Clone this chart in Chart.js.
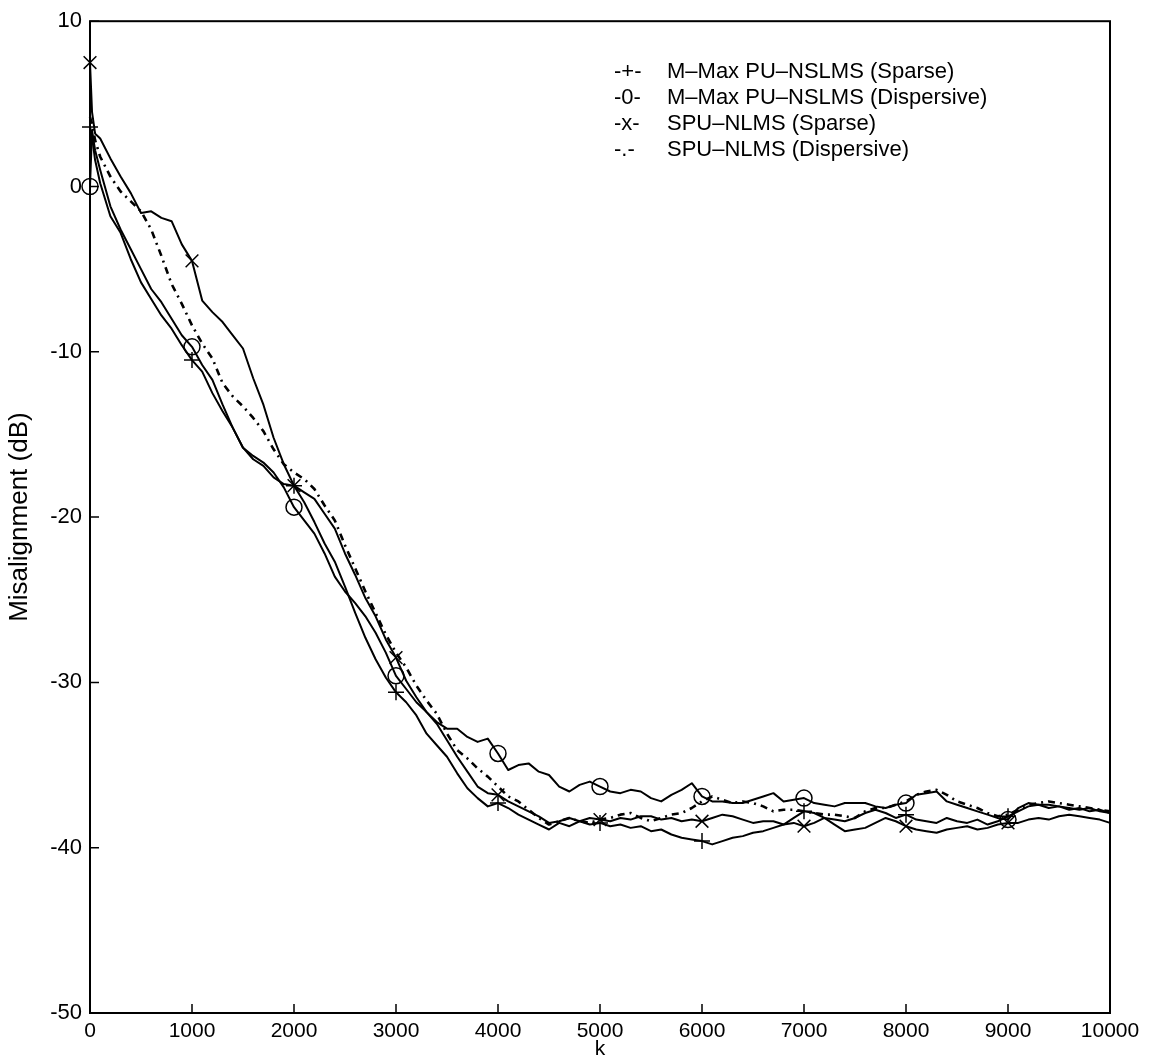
<!DOCTYPE html>
<html>
<head>
<meta charset="utf-8">
<script src="https://cdn.jsdelivr.net/npm/chart.js@4/dist/chart.umd.min.js"></script>
<style>
  html, body { margin: 0; padding: 0; background: #fff; }
  #caixa { width: 1154px; height: 1060px; }
</style>
</head>
<body>
<div id="caixa"><canvas id="grafico" width="1154" height="1060"></canvas></div>
<script>
// iteracoes k
const passos = [0, 20, 50,
  100, 200, 300, 400, 500, 600, 700, 800, 900, 1000,
  1100, 1200, 1300, 1400, 1500, 1600, 1700, 1800, 1900, 2000,
  2100, 2200, 2300, 2400, 2500, 2600, 2700, 2800, 2900, 3000,
  3100, 3200, 3300, 3400, 3500, 3600, 3700, 3800, 3900, 4000,
  4100, 4200, 4300, 4400, 4500, 4600, 4700, 4800, 4900, 5000,
  5100, 5200, 5300, 5400, 5500, 5600, 5700, 5800, 5900, 6000,
  6100, 6200, 6300, 6400, 6500, 6600, 6700, 6800, 6900, 7000,
  7100, 7200, 7300, 7400, 7500, 7600, 7700, 7800, 7900, 8000,
  8100, 8200, 8300, 8400, 8500, 8600, 8700, 8800, 8900, 9000,
  9100, 9200, 9300, 9400, 9500, 9600, 9700, 9800, 9900, 10000];

// M-Max PU-NSLMS (Sparse)  -+-
const mmaxEsparso = [3.6, 3.0, 1.6,
  0.2, -1.8, -2.8, -4.4, -5.8, -6.8, -7.8, -8.6, -9.6, -10.5,
  -11.2, -12.5, -13.6, -14.6, -15.8, -16.5, -16.9, -17.6, -18.0, -18.1,
  -19.1, -20.3, -21.6, -22.7, -24.2, -25.8, -27.3, -28.6, -29.7, -30.6,
  -31.2, -32.0, -33.1, -33.8, -34.5, -35.5, -36.4, -37.0, -37.5, -37.3,
  -37.6, -38.0, -38.3, -38.6, -38.9, -38.5, -38.7, -38.4, -38.6, -38.5,
  -38.7, -38.6, -38.8, -38.7, -39.0, -38.9, -39.2, -39.4, -39.5, -39.6,
  -39.8, -39.6, -39.4, -39.3, -39.1, -39.0, -38.8, -38.6, -38.2, -37.8,
  -37.9, -38.2, -38.3, -38.4, -38.2, -37.9, -37.7, -37.9, -38.2, -38.0,
  -38.3, -38.4, -38.5, -38.2, -38.4, -38.5, -38.3, -38.6, -38.4, -38.1,
  -37.8, -37.5, -37.4, -37.6, -37.5, -37.7, -37.6, -37.8, -37.7, -37.9];

// M-Max PU-NSLMS (Dispersive)  -o-
const mmaxDispersivo = [0, 3.4, 2.2,
  1.0, -1.2, -2.6, -3.8, -5.0, -6.2, -7.0, -8.0, -9.0, -9.7,
  -10.8, -11.7, -13.2, -14.6, -15.8, -16.3, -16.7, -17.3, -18.2, -19.4,
  -20.2, -21.0, -22.2, -23.6, -24.5, -25.2, -26.0, -27.0, -28.2, -29.6,
  -30.4, -31.2, -31.8, -32.4, -32.8, -32.8, -33.3, -33.6, -33.4, -34.3,
  -35.3, -35.0, -34.9, -35.4, -35.6, -36.3, -36.6, -36.2, -36.0, -36.3,
  -36.6, -36.7, -36.5, -36.6, -37.0, -37.2, -36.8, -36.5, -36.1, -36.9,
  -37.2, -37.2, -37.3, -37.3, -37.1, -36.9, -36.7, -37.2, -37.1, -37.0,
  -37.3, -37.4, -37.5, -37.3, -37.3, -37.3, -37.5, -37.6, -37.4, -37.3,
  -36.8, -36.7, -36.6, -37.2, -37.4, -37.6, -37.8, -38.0, -38.2, -38.3,
  -37.6, -37.3, -37.4, -37.4, -37.5, -37.6, -37.7, -37.6, -37.8, -37.9];

// SPU-NLMS (Sparse)  -x-
const spuEsparso = [7.5, 4.5, 3.2,
  2.9, 1.7, 0.6, -0.4, -1.6, -1.5, -1.9, -2.1, -3.5, -4.5,
  -6.9, -7.6, -8.2, -9.0, -9.8, -11.6, -13.2, -15.2, -16.8, -18.1,
  -18.5, -18.9, -19.8, -20.7, -22.2, -23.5, -24.9, -26.0, -27.4, -28.5,
  -29.9, -30.9, -31.8, -32.5, -33.5, -34.5, -35.4, -36.3, -36.7, -36.8,
  -37.2, -37.5, -37.8, -38.1, -38.5, -38.4, -38.2, -38.4, -38.2, -38.3,
  -38.4, -38.2, -38.3, -38.1, -38.1, -38.3, -38.2, -38.4, -38.3, -38.4,
  -38.2, -38.0, -38.1, -38.3, -38.5, -38.4, -38.4, -38.6, -38.5, -38.7,
  -38.5, -38.2, -38.6, -39.0, -38.9, -38.8, -38.5, -38.2, -38.4, -38.7,
  -38.9, -39.0, -39.1, -38.9, -38.8, -38.7, -38.9, -38.8, -38.6, -38.5,
  -38.5, -38.3, -38.2, -38.3, -38.1, -38.0, -38.1, -38.2, -38.3, -38.5];

// SPU-NLMS (Dispersive)  -.-
const spuDispersivo = [4.2, 3.8, 2.8,
  1.8, 0.6, -0.3, -0.9, -1.5, -2.6, -4.2, -5.9, -7.1, -8.4,
  -9.5, -10.4, -11.9, -12.7, -13.3, -14.0, -14.8, -15.9, -16.8, -17.3,
  -17.7, -18.3, -19.3, -20.2, -21.7, -23.1, -24.5, -25.8, -27.1, -28.2,
  -29.1, -30.2, -31.1, -31.9, -33.1, -34.1, -34.6, -35.2, -35.7, -36.3,
  -36.9, -37.2, -37.7, -38.2, -38.6, -38.4, -38.2, -38.4, -38.5, -38.3,
  -38.2, -38.0, -37.9, -38.2, -38.4, -38.2, -38.0, -37.9, -37.6, -37.2,
  -36.9, -37.1, -37.3, -37.2, -37.3, -37.5, -37.8, -37.7, -37.7, -37.8,
  -37.9, -38.0, -38.0, -38.1, -38.2, -37.8, -37.6, -37.6, -37.4, -37.2,
  -36.8, -36.6, -36.5, -36.8, -37.2, -37.4, -37.6, -37.9, -38.1, -38.0,
  -37.7, -37.4, -37.3, -37.2, -37.3, -37.4, -37.5, -37.6, -37.7, -37.8];

// marcadores a cada 1000 iteracoes
const posMarcadores = [0, 1000, 2000, 3000, 4000, 5000, 6000, 7000, 8000, 9000];

const ticksX = [0, 1000, 2000, 3000, 4000, 5000, 6000, 7000, 8000, 9000, 10000];
const ticksY = [10, 0, -10, -20, -30, -40, -50];

const simbolosLegenda = ["-+-", "-0-", "-x-", "-.-"];
const textosLegenda = [
  "M\u2013Max PU\u2013NSLMS (Sparse)",
  "M\u2013Max PU\u2013NSLMS (Dispersive)",
  "SPU\u2013NLMS (Sparse)",
  "SPU\u2013NLMS (Dispersive)",
];

const fonte = "'Liberation Sans', Arial, Helvetica, sans-serif";

function pontos(valores) {
  return passos.map((k, i) => ({ x: k, y: valores[i] }));
}

function raioMarcador(r) {
  return (ctx) => (posMarcadores.includes(passos[ctx.dataIndex]) ? r : 0);
}

// moldura estilo matlab, ticks para dentro e legenda
const molduraMatlab = {
  id: "molduraMatlab",
  afterDraw(chart) {
    const { ctx, chartArea: a, scales } = chart;
    ctx.save();
    ctx.strokeStyle = "#000";
    ctx.lineWidth = 2;
    ctx.strokeRect(a.left, a.top, a.right - a.left, a.bottom - a.top);

    ctx.lineWidth = 1.5;
    ctx.beginPath();
    for (const t of ticksX) {
      const px = scales.x.getPixelForValue(t);
      ctx.moveTo(px, a.bottom);
      ctx.lineTo(px, a.bottom - 9);
    }
    for (const t of ticksY) {
      const py = scales.y.getPixelForValue(t);
      ctx.moveTo(a.left, py);
      ctx.lineTo(a.left + 9, py);
    }
    ctx.stroke();

    ctx.fillStyle = "#000";
    ctx.font = "22px " + fonte;
    ctx.textBaseline = "middle";
    for (let i = 0; i < textosLegenda.length; i++) {
      const y = 72 + i * 26;
      ctx.fillText(simbolosLegenda[i], 614, y);
      ctx.fillText(textosLegenda[i], 667, y);
    }
    ctx.restore();
  },
};

new Chart(document.getElementById("grafico"), {
  type: "line",
  data: {
    datasets: [
      {
        label: textosLegenda[0],
        data: pontos(mmaxEsparso),
        borderColor: "#000",
        borderWidth: 2,
        pointStyle: "cross",
        pointRadius: raioMarcador(8),
        pointBorderColor: "#000",
        pointBorderWidth: 1.5,
        pointBackgroundColor: "rgba(0,0,0,0)",
      },
      {
        label: textosLegenda[1],
        data: pontos(mmaxDispersivo),
        borderColor: "#000",
        borderWidth: 2,
        pointStyle: "circle",
        pointRadius: raioMarcador(8),
        pointBorderColor: "#000",
        pointBorderWidth: 1.5,
        pointBackgroundColor: "rgba(0,0,0,0)",
      },
      {
        label: textosLegenda[2],
        data: pontos(spuEsparso),
        borderColor: "#000",
        borderWidth: 2,
        pointStyle: "crossRot",
        pointRadius: raioMarcador(9),
        pointBorderColor: "#000",
        pointBorderWidth: 1.5,
        pointBackgroundColor: "rgba(0,0,0,0)",
      },
      {
        label: textosLegenda[3],
        data: pontos(spuDispersivo),
        borderColor: "#000",
        borderWidth: 2.6,
        borderDash: [7, 5, 2, 5],
        pointRadius: 0,
      },
    ],
  },
  options: {
    responsive: false,
    devicePixelRatio: 1,
    animation: false,
    clip: 12,
    elements: { line: { tension: 0, borderJoinStyle: "round" } },
    layout: { padding: { top: 9, right: 44, left: 0, bottom: 0 } },
    plugins: { legend: { display: false }, tooltip: { enabled: false } },
    scales: {
      x: {
        type: "linear",
        min: 0,
        max: 10000,
        afterBuildTicks: (s) => { s.ticks = ticksX.map((v) => ({ value: v })); },
        afterFit: (s) => { s.height = 47; },
        grid: { display: false, drawTicks: false },
        border: { display: false },
        ticks: {
          padding: 6,
          color: "#000",
          font: { family: fonte, size: 21 },
          maxRotation: 0,
          callback: (v) => String(v),
        },
        title: {
          display: true,
          text: "k",
          color: "#000",
          font: { family: fonte, size: 21, lineHeight: 1 },
          padding: { top: 0, bottom: 0 },
        },
      },
      y: {
        type: "linear",
        min: -50,
        max: 10,
        afterBuildTicks: (s) => { s.ticks = ticksY.map((v) => ({ value: v })); },
        afterFit: (s) => { s.width = 90; },
        grid: { display: false, drawTicks: false },
        border: { display: false },
        ticks: {
          padding: 8,
          color: "#000",
          font: { family: fonte, size: 22 },
          callback: (v) => String(v),
        },
        title: {
          display: true,
          text: "Misalignment (dB)",
          color: "#000",
          font: { family: fonte, size: 26 },
          padding: { top: 4, bottom: 0 },
        },
      },
    },
  },
  plugins: [molduraMatlab],
});
</script>
</body>
</html>
